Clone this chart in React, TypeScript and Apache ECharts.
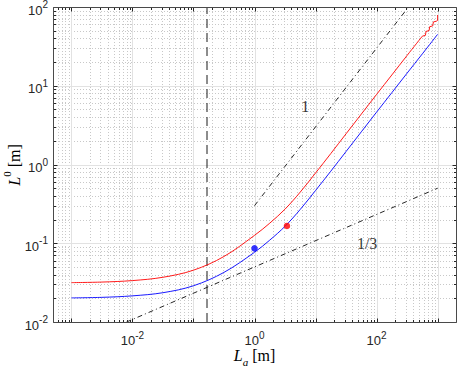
import React, { useEffect, useRef } from 'react';
import * as echarts from 'echarts';

// Axis limits
const X_MIN = 5e-4;
const X_MAX = 2e3;
const Y_MIN = 1e-2;
const Y_MAX = 1e2;

// Blue curve
const blueLa = [0.001, 0.003162, 0.01, 0.03162, 0.1, 0.3162, 1, 1.778, 3.162, 5.623, 10, 17.78, 31.62, 56.23, 100, 177.8, 316.2, 562.3, 1000];
const blueL0 = [0.02023, 0.02056, 0.02148, 0.02355, 0.02884, 0.04266, 0.07674, 0.1096, 0.1641, 0.2692, 0.4677, 0.8222, 1.462, 2.6, 4.624, 8.166, 14.45, 25.41, 44.98];

// Red curve, smooth part
const redLa = [0.001, 0.003162, 0.01, 0.03162, 0.1, 0.3162, 1, 1.778, 3.162, 5.623, 10, 17.78, 31.62, 56.23, 100, 177.8, 316.2, 562.3];
const redL0 = [0.03162, 0.03214, 0.03357, 0.03698, 0.0455, 0.06792, 0.1259, 0.1799, 0.271, 0.4467, 0.7798, 1.377, 2.455, 4.365, 7.762, 13.71, 24.27, 42.66];
// Red curve, small staircase at its upper end
const redTailLa = [562.3, 631, 645.7, 724.4, 741.3, 831.8, 851.1, 955, 1000, 1000];
const redTailL0 = [42.66, 43.65, 48.98, 50.12, 56.23, 57.54, 64.57, 66.07, 67.61, 79.07];

// Reference lines
const slope1La = [1, 333.3];
const slope1L0 = [0.3, 100];
const slopeThirdLa = [0.008, 1000];
const slopeThirdL0 = [0.01, 0.5];
const vLineLa = [0.1667, 0.1667];
const vLineL0 = [Y_MIN, Y_MAX];

// Markers
const blueDot = [1, 0.086];
const redDot = [3.4, 0.166];

// Annotations
const annoText = ['1', '1/3'];
const annoLa = [6.8, 70];
const annoL0 = [5.4, 0.1];

// Ticks
const decades = [1e-4, 1e-3, 1e-2, 1e-1, 1, 10, 100, 1000];
const mantissas = [2, 3, 4, 5, 6, 7, 8, 9];
const xMajor = [1e-3, 1e-2, 1e-1, 1, 10, 100, 1000];
const yMajor = [1e-2, 1e-1, 1, 10, 100];
const xLabelVals = [1e-2, 1, 100];
const xLabelExps = ['-2', '0', '2'];
const yLabelVals = [1e-2, 1e-1, 1, 10, 100];
const yLabelExps = ['-2', '-1', '0', '1', '2'];

const minorOf = (lo: number, hi: number) => {
  const out: number[] = [];
  decades.forEach((d) => mantissas.forEach((m) => {
    const v = m * d;
    if (v > lo * 1.0001 && v < hi * 0.9999) out.push(v);
  }));
  return out;
};
const xMinor = minorOf(X_MIN, X_MAX);
const yMinor = minorOf(Y_MIN, Y_MAX);

const SANS = 'Liberation Sans';
const SERIF = 'Liberation Serif';
const AX = '#262626';

const crisp = (v: number) => Math.round(v) + 0.5;

const gridRender = (_p: any, api: any) => {
  const children: any[] = [];
  const [xl, yb] = api.coord([X_MIN, Y_MIN]);
  const [xr, yt] = api.coord([X_MAX, Y_MAX]);
  xMinor.forEach((v) => {
    const x = crisp(api.coord([v, Y_MIN])[0]);
    children.push({ type: 'line', shape: { x1: x, y1: yb, x2: x, y2: yt }, style: { stroke: '#c8c8c8', lineWidth: 1, lineDash: [1, 2] } });
  });
  yMinor.forEach((v) => {
    const y = crisp(api.coord([X_MIN, v])[1]);
    children.push({ type: 'line', shape: { x1: xl, y1: y, x2: xr, y2: y }, style: { stroke: '#c8c8c8', lineWidth: 1, lineDash: [1, 2] } });
  });
  xMajor.forEach((v) => {
    const x = crisp(api.coord([v, Y_MIN])[0]);
    children.push({ type: 'line', shape: { x1: x, y1: yb, x2: x, y2: yt }, style: { stroke: '#e2e2e2', lineWidth: 1 } });
  });
  yMajor.forEach((v) => {
    const y = crisp(api.coord([X_MIN, v])[1]);
    children.push({ type: 'line', shape: { x1: xl, y1: y, x2: xr, y2: y }, style: { stroke: '#e2e2e2', lineWidth: 1 } });
  });
  return { type: 'group', children };
};

const frameRender = (_p: any, api: any) => {
  const children: any[] = [];
  const [xl0, yb0] = api.coord([X_MIN, Y_MIN]);
  const [xr0, yt0] = api.coord([X_MAX, Y_MAX]);
  const xl = crisp(xl0), yb = crisp(yb0), xr = crisp(xr0), yt = crisp(yt0);
  const tick = (x1: number, y1: number, x2: number, y2: number) =>
    children.push({ type: 'line', shape: { x1, y1, x2, y2 }, style: { stroke: AX, lineWidth: 1 } });
  const xt = (vals: number[], len: number) => vals.forEach((v) => {
    const x = crisp(api.coord([v, Y_MIN])[0]);
    tick(x, yb, x, yb - len);
    tick(x, yt, x, yt + len);
  });
  const yt2 = (vals: number[], len: number) => vals.forEach((v) => {
    const y = crisp(api.coord([X_MIN, v])[1]);
    tick(xl, y, xl + len, y);
    tick(xr, y, xr - len, y);
  });
  xt(xMinor, 2.5);
  xt(xMajor, 4);
  yt2(yMinor, 2.5);
  yt2(yMajor, 4);
  children.push({ type: 'rect', shape: { x: xl, y: yt, width: xr - xl, height: yb - yt }, style: { fill: 'none', stroke: '#4a4a4a', lineWidth: 1 } });
  return { type: 'group', children };
};

const tickRich = {
  b: { fontFamily: SANS, fontSize: 13, fill: AX, padding: [4, 0, 0, 0], verticalAlign: 'bottom' },
  s: { fontFamily: SANS, fontSize: 10, fill: AX, verticalAlign: 'top' },
};

const xLabelRender = (p: any, api: any) => {
  const pt = api.coord([api.value(0), api.value(1)]);
  return {
    type: 'text', x: pt[0], y: pt[1] + 8,
    style: { text: `{b|10}{s|${xLabelExps[p.dataIndex]}}`, rich: tickRich, align: 'center', verticalAlign: 'top', fill: AX, fontFamily: SANS },
  };
};
const yLabelRender = (p: any, api: any) => {
  const pt = api.coord([api.value(0), api.value(1)]);
  return {
    type: 'text', x: pt[0] - 5, y: pt[1] + 1,
    style: { text: `{b|10}{s|${yLabelExps[p.dataIndex]}}`, rich: tickRich, align: 'right', verticalAlign: 'middle', fill: AX, fontFamily: SANS },
  };
};

const pairs = (xs: number[], ys: number[]) => xs.map((x, i) => [x, ys[i]]);

const option: any = {
  animation: false,
  backgroundColor: '#ffffff',
  textStyle: { fontFamily: SANS },
  grid: { left: 53, right: 1, top: 7, bottom: 45, show: false },
  xAxis: {
    type: 'log', logBase: 10, min: X_MIN, max: X_MAX,
    axisLine: { show: false }, axisTick: { show: false }, axisLabel: { show: false }, splitLine: { show: false },
  },
  yAxis: {
    type: 'log', logBase: 10, min: Y_MIN, max: Y_MAX,
    axisLine: { show: false }, axisTick: { show: false }, axisLabel: { show: false }, splitLine: { show: false },
  },
  series: [
    { type: 'custom', name: 'grid', z: 1, silent: true, renderItem: gridRender, data: [[1, 1]] },
    {
      type: 'line', name: 'vline', z: 2, data: pairs(vLineLa, vLineL0), showSymbol: false, silent: true,
      lineStyle: { color: '#1a1a1a', width: 1, type: [9, 5] },
    },
    {
      type: 'line', name: 'slope1', z: 2, data: pairs(slope1La, slope1L0), showSymbol: false, silent: true,
      lineStyle: { color: AX, width: 1, type: [5, 3, 1, 3] },
    },
    {
      type: 'line', name: 'slope1/3', z: 2, data: pairs(slopeThirdLa, slopeThirdL0), showSymbol: false, silent: true,
      lineStyle: { color: AX, width: 1, type: [5, 3, 1, 3] },
    },
    {
      type: 'line', name: 'red', z: 3, data: pairs(redLa, redL0), showSymbol: false, silent: true, smooth: 0.35,
      lineStyle: { color: '#ff0000', width: 0.9 },
    },
    {
      type: 'line', name: 'redTail', z: 3, data: pairs(redTailLa, redTailL0), showSymbol: false, silent: true,
      lineStyle: { color: '#ff0000', width: 0.9 },
    },
    {
      type: 'line', name: 'blue', z: 3, data: pairs(blueLa, blueL0), showSymbol: false, silent: true, smooth: 0.35,
      lineStyle: { color: '#0000ff', width: 0.9 },
    },
    {
      type: 'scatter', name: 'dots', z: 4, silent: true, symbol: 'circle', symbolSize: 6.5,
      data: [
        { value: blueDot, itemStyle: { color: '#0000ff' } },
        { value: redDot, itemStyle: { color: '#ff0000' } },
      ],
    },
    {
      type: 'scatter', name: 'anno', z: 4, silent: true, symbolSize: 0,
      data: annoText.map((t, i) => ({ value: [annoLa[i], annoL0[i]], name: t })),
      label: { show: true, position: 'inside', formatter: (p: any) => p.name, fontFamily: SERIF, fontSize: 16, color: '#000' },
    },
    { type: 'custom', name: 'frame', z: 5, silent: true, renderItem: frameRender, data: [[1, 1]] },
    { type: 'custom', name: 'xlabels', z: 5, silent: true, renderItem: xLabelRender, data: xLabelVals.map((v) => [v, Y_MIN]) },
    { type: 'custom', name: 'ylabels', z: 5, silent: true, renderItem: yLabelRender, data: yLabelVals.map((v) => [X_MIN, v]) },
  ],
  graphic: [
    {
      type: 'text', x: 254.5, y: 357,
      style: {
        text: '{i|L}{sub|a}{n| [m]}', align: 'center', verticalAlign: 'middle', fill: '#000', fontFamily: SERIF,
        rich: {
          i: { fontFamily: SERIF, fontStyle: 'italic', fontSize: 16, fill: '#000', padding: [0, 0, 4, 0], verticalAlign: 'top' },
          sub: { fontFamily: SERIF, fontStyle: 'italic', fontSize: 11, fill: '#000', verticalAlign: 'bottom' },
          n: { fontFamily: SERIF, fontSize: 16, fill: '#000', padding: [0, 0, 4, 0], verticalAlign: 'top' },
        },
      },
    },
    {
      type: 'text', x: 12, y: 165, rotation: Math.PI / 2,
      style: {
        text: '{i|L}{sup|0}{n| [m]}', align: 'center', verticalAlign: 'middle', fill: '#000', fontFamily: SERIF,
        rich: {
          i: { fontFamily: SERIF, fontStyle: 'italic', fontSize: 16, fill: '#000', padding: [5, 0, 0, 0], verticalAlign: 'bottom' },
          sup: { fontFamily: SERIF, fontSize: 11, fill: '#000', verticalAlign: 'top' },
          n: { fontFamily: SERIF, fontSize: 16, fill: '#000', padding: [5, 0, 0, 0], verticalAlign: 'bottom' },
        },
      },
    },
  ],
};

export default function App() {
  const ref = useRef<HTMLDivElement>(null);
  useEffect(() => {
    const chart = echarts.init(ref.current as HTMLDivElement, null, { renderer: 'svg' });
    chart.setOption(option);
    return () => chart.dispose();
  }, []);
  return (
    <div
      ref={ref}
      style={{ position: 'fixed', left: 0, top: 0, width: 457, height: 367, background: '#ffffff' }}
    />
  );
}
